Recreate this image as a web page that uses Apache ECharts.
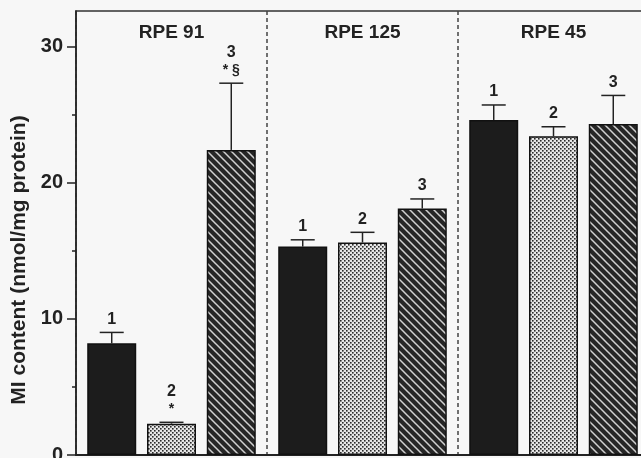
<!DOCTYPE html>
<html><head><meta charset="utf-8">
<script src="https://cdn.jsdelivr.net/npm/echarts@6/dist/echarts.min.js"></script>
<style>html,body{margin:0;padding:0;background:#f7f7f7}#c{width:641px;height:458px}</style>
</head><body><div id="c"></div><script>
// ---- data ----
const groups = ['RPE 91', 'RPE 125', 'RPE 45'];
const barLabels = ['1', '2', '3'];
const mean1 = [8.2, 15.3, 24.6];
const mean2 = [2.3, 15.6, 23.4];
const mean3 = [22.4, 18.1, 24.3];
const err1 = [0.8, 0.5, 1.1];
const err2 = [0.1, 0.75, 0.7];
const err3 = [4.9, 0.7, 2.1];
const notes1 = ['', '', ''];
const notes2 = ['*', '', ''];
const notes3 = ['* §', '', ''];
const yMajorTicks = [0, 10, 20, 30];
const yMinorTicks = [5, 15, 25];
const yAxisMax = 32.6;
const yAxisName = 'MI content (nmol/mg protein)';

// ---- styles ----
const FONT = '"Liberation Sans", Arial, sans-serif';
const INK = '#222';
const BAR_W = 49, BAR_GAP = 0.22;

function stipple() {
  const c = document.createElement('canvas'); c.width = 4; c.height = 4;
  const g = c.getContext('2d');
  g.fillStyle = '#e6e6e6'; g.fillRect(0, 0, 4, 4);
  g.fillStyle = '#2a2a2a';
  g.fillRect(0, 0, 1.6, 1.6); g.fillRect(2, 2, 1.6, 1.6);
  return c;
}
function hatch() {
  const s = 8;
  const c = document.createElement('canvas'); c.width = s; c.height = s;
  const g = c.getContext('2d');
  g.fillStyle = '#262626'; g.fillRect(0, 0, s, s);
  g.strokeStyle = '#d0d0d0'; g.lineWidth = 1.5;
  g.beginPath();
  g.moveTo(-1, -1); g.lineTo(s + 1, s + 1);
  g.moveTo(-1, s - 1); g.lineTo(1, s + 1);
  g.moveTo(s - 1, -1); g.lineTo(s + 1, 1);
  g.stroke();
  return c;
}
const fills = ['#1c1c1c', { image: stipple(), repeat: 'repeat' }, { image: hatch(), repeat: 'repeat' }];
const means = [mean1, mean2, mean3];
const errs = [err1, err2, err3];
const notes = [notes1, notes2, notes3];

const series = [];
means.forEach((m, i) => {
  series.push({
    type: 'bar', data: m, barWidth: BAR_W, barGap: (BAR_GAP * 100) + '%',
    itemStyle: { color: fills[i], borderColor: '#111', borderWidth: 1.5 },
    silent: true, z: 2
  });
});
means.forEach((m, i) => {
  const offset = (i - 1) * BAR_W * (1 + BAR_GAP);
  series.push({
    type: 'custom', z: 3, silent: true,
    data: m.map((v, k) => [k, v, errs[i][k]]),
    renderItem: (params, api) => {
      const k = params.dataIndex;
      const base = api.coord([api.value(0), api.value(1)]);
      const top = api.coord([api.value(0), api.value(1) + api.value(2)]);
      const cx = base[0] + offset;
      const ty = top[1];
      const note = notes[i][k];
      const children = [
        { type: 'line', shape: { x1: cx, y1: base[1], x2: cx, y2: ty }, style: { stroke: INK, lineWidth: 1.5 } },
        { type: 'line', shape: { x1: cx - 12, y1: ty, x2: cx + 12, y2: ty }, style: { stroke: INK, lineWidth: 1.5 } }
      ];
      if (note) {
        children.push({ type: 'text', style: { text: note, x: cx, y: ty - 13, align: 'center', verticalAlign: 'middle', font: 'bold 14px ' + FONT, fill: INK } });
        children.push({ type: 'text', style: { text: barLabels[i], x: cx, y: ty - 31, align: 'center', verticalAlign: 'middle', font: 'bold 16px ' + FONT, fill: INK } });
      } else {
        children.push({ type: 'text', style: { text: barLabels[i], x: cx, y: ty - 13, align: 'center', verticalAlign: 'middle', font: 'bold 16px ' + FONT, fill: INK } });
      }
      return { type: 'group', children };
    }
  });
});

const chart = echarts.init(document.getElementById('c'), null, { renderer: 'canvas' });
chart.setOption({
  backgroundColor: '#f7f7f7',
  animation: false,
  grid: { left: 76, top: 11, width: 573, height: 444, outerBoundsMode: 'none', containLabel: false, show: true, borderColor: '#333', borderWidth: 1.5, backgroundColor: 'transparent' },
  xAxis: [
    {
      type: 'category', data: groups, position: 'bottom',
      axisLine: { lineStyle: { color: '#222', width: 2 } },
      axisTick: { show: false }, axisLabel: { show: false },
      splitLine: { show: true, lineStyle: { color: '#444', width: 1.5, type: [4, 3] } }
    },
    {
      type: 'category', data: groups, position: 'top',
      axisLine: { show: false }, axisTick: { show: false },
      axisLabel: { inside: true, margin: 12, fontSize: 19, fontWeight: 'bold', fontFamily: FONT, color: INK, verticalAlign: 'top' }
    }
  ],
  yAxis: [
    {
      type: 'value', min: 0, max: yAxisMax, interval: 10,
      name: yAxisName, nameLocation: 'middle', nameGap: 46,
      nameTextStyle: { fontSize: 21, fontWeight: 'bold', fontFamily: FONT, color: INK, padding: [0, 54, 0, 0] },
      axisLine: { show: true, lineStyle: { color: '#222', width: 1.5 } },
      axisTick: { show: true, length: 9, customValues: yMajorTicks, lineStyle: { color: '#222', width: 1.5 } },
      axisLabel: { customValues: yMajorTicks, margin: 13, fontSize: 20, fontWeight: 'bold', fontFamily: FONT, color: INK },
      splitLine: { show: false }
    },
    {
      type: 'value', min: 0, max: yAxisMax, position: 'left',
      axisLine: { show: false },
      axisTick: { show: true, length: 4, customValues: yMinorTicks, lineStyle: { color: '#222', width: 1.5 } },
      axisLabel: { show: false }, splitLine: { show: false }
    }
  ],
  series
});
</script></body></html>
